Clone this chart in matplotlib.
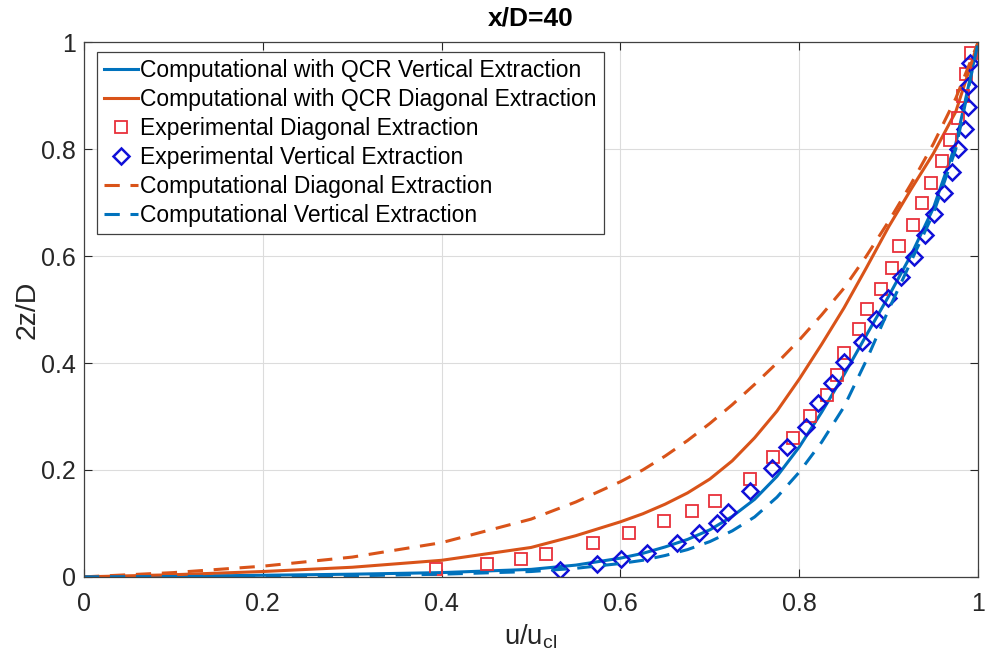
import matplotlib.pyplot as plt

plt.rcParams['font.family'] = ['Liberation Sans', 'DejaVu Sans']

# Computational with QCR, vertical extraction (solid blue)
qcr_vert_x = [0, 0.1, 0.2, 0.3, 0.4, 0.5, 0.55, 0.6, 0.625, 0.65, 0.675, 0.7, 0.725, 0.75, 0.775, 0.8,
              0.825, 0.85, 0.875, 0.9, 0.925, 0.95, 0.975, 1.0]
qcr_vert_y = [0, 0.001, 0.003, 0.005, 0.008, 0.014, 0.022, 0.035, 0.044, 0.056, 0.07, 0.088, 0.113, 0.145,
              0.188, 0.243, 0.308, 0.378, 0.452, 0.525, 0.602, 0.69, 0.81, 1.0]

# Computational with QCR, diagonal extraction (solid orange)
qcr_diag_x = [0, 0.1, 0.2, 0.3, 0.4, 0.5, 0.55, 0.6, 0.625, 0.65, 0.675, 0.7, 0.725, 0.75, 0.775, 0.8,
              0.825, 0.85, 0.875, 0.9, 0.925, 0.95, 0.975, 1.0]
qcr_diag_y = [0, 0.004, 0.01, 0.018, 0.031, 0.055, 0.077, 0.103, 0.118, 0.136, 0.157, 0.183, 0.217, 0.26,
              0.31, 0.37, 0.435, 0.503, 0.578, 0.655, 0.725, 0.792, 0.87, 1.0]

# Computational, diagonal extraction (dashed orange)
comp_diag_x = [0, 0.1, 0.2, 0.3, 0.4, 0.5, 0.55, 0.6, 0.625, 0.65, 0.675, 0.7, 0.725, 0.75, 0.775, 0.8,
               0.825, 0.85, 0.875, 0.9, 0.925, 0.95, 0.975, 1.0]
comp_diag_y = [0, 0.008, 0.02, 0.037, 0.064, 0.108, 0.14, 0.178, 0.2, 0.226, 0.255, 0.287, 0.322, 0.36,
               0.4, 0.443, 0.49, 0.54, 0.6, 0.665, 0.735, 0.81, 0.895, 1.0]

# Computational, vertical extraction (dashed blue)
comp_vert_x = [0, 0.3, 0.4, 0.5, 0.55, 0.6, 0.625, 0.65, 0.675, 0.7, 0.725, 0.75, 0.775, 0.8,
               0.825, 0.85, 0.875, 0.9, 0.925, 0.95, 0.975, 1.0]
comp_vert_y = [0, 0.002, 0.005, 0.01, 0.016, 0.025, 0.031, 0.04, 0.051, 0.066, 0.086, 0.112, 0.149, 0.196,
               0.252, 0.318, 0.405, 0.5, 0.59, 0.68, 0.8, 1.0]

# Experimental, diagonal extraction (red squares)
exp_diag_x = [0.394, 0.451, 0.489, 0.517, 0.569, 0.610, 0.649, 0.680, 0.706, 0.745, 0.771, 0.793, 0.812,
              0.831, 0.842, 0.850, 0.867, 0.876, 0.891, 0.904, 0.912, 0.927, 0.937, 0.947, 0.960, 0.968,
              0.978, 0.983, 0.986, 0.992]
exp_diag_y = [0.015, 0.024, 0.034, 0.043, 0.064, 0.082, 0.105, 0.123, 0.142, 0.183, 0.224, 0.260, 0.301,
              0.340, 0.378, 0.418, 0.464, 0.501, 0.538, 0.578, 0.619, 0.658, 0.699, 0.737, 0.778, 0.817,
              0.858, 0.899, 0.940, 0.979]

# Experimental, vertical extraction (blue diamonds)
exp_vert_x = [0.532, 0.574, 0.601, 0.630, 0.663, 0.688, 0.708, 0.720, 0.745, 0.770, 0.786, 0.807, 0.821,
              0.837, 0.850, 0.870, 0.886, 0.899, 0.914, 0.928, 0.941, 0.951, 0.962, 0.971, 0.978, 0.985,
              0.989, 0.989, 0.991]
exp_vert_y = [0.013, 0.024, 0.034, 0.045, 0.064, 0.082, 0.101, 0.121, 0.161, 0.204, 0.243, 0.280, 0.325,
              0.363, 0.402, 0.439, 0.482, 0.521, 0.561, 0.598, 0.639, 0.679, 0.718, 0.757, 0.800, 0.837,
              0.879, 0.918, 0.961]

blue = '#0072BD'
orange = '#D95319'

fig = plt.figure(figsize=(9.88, 6.70), dpi=100)
ax = fig.add_axes([0.085, 0.139, 0.905, 0.798])

ax.plot(qcr_vert_x, qcr_vert_y, color=blue, lw=2.2, label='Computational with QCR Vertical Extraction')
ax.plot(qcr_diag_x, qcr_diag_y, color=orange, lw=2.2, label='Computational with QCR Diagonal Extraction')
ax.plot(exp_diag_x, exp_diag_y, 's', mfc='none', mec='#e8303a', ms=9, mew=1.3,
        label='Experimental Diagonal Extraction')
ax.plot(exp_vert_x, exp_vert_y, 'D', mfc='none', mec='#1010d8', ms=8, mew=1.8,
        label='Experimental Vertical Extraction')
ax.plot(comp_diag_x, comp_diag_y, '--', color=orange, lw=2.2, dashes=(5, 3.5),
        label='Computational Diagonal Extraction')
ax.plot(comp_vert_x, comp_vert_y, '--', color=blue, lw=2.2, dashes=(5, 3.5),
        label='Computational Vertical Extraction')

ax.set_xlim(0, 1)
ax.set_ylim(0, 1)
ax.set_xticks([0, 0.2, 0.4, 0.6, 0.8, 1])
ax.set_xticklabels(['0', '0.2', '0.4', '0.6', '0.8', '1'])
ax.set_yticks([0, 0.2, 0.4, 0.6, 0.8, 1])
ax.set_yticklabels(['0', '0.2', '0.4', '0.6', '0.8', '1'])
ax.tick_params(direction='in', top=True, right=True, labelsize=18, colors='#262626',
               length=6, width=0.8, pad=6)
ax.tick_params(axis='x', pad=11)
ax.grid(True, color='#dcdcdc', lw=0.8)
ax.set_axisbelow(True)
for s in ax.spines.values():
    s.set_color('#404040')
    s.set_linewidth(0.9)

ax.set_xlabel('u/u$_{\\mathregular{cl}}$', fontsize=19.8, color='#262626', labelpad=4)
ax.set_ylabel('2z/D', fontsize=20.5, color='#262626', labelpad=0)
ax.set_title('x/D=40', fontsize=19, fontweight='bold', pad=12)

leg = ax.legend(loc='upper left', bbox_to_anchor=(0.0145, 0.981), borderaxespad=0,
                fontsize=16.5, fancybox=False, framealpha=1, edgecolor='#404040',
                handlelength=1.5, handletextpad=0.1, labelspacing=0.26, borderpad=0.3)
leg.get_frame().set_linewidth(0.9)

fig.savefig('out.png', dpi=100)
